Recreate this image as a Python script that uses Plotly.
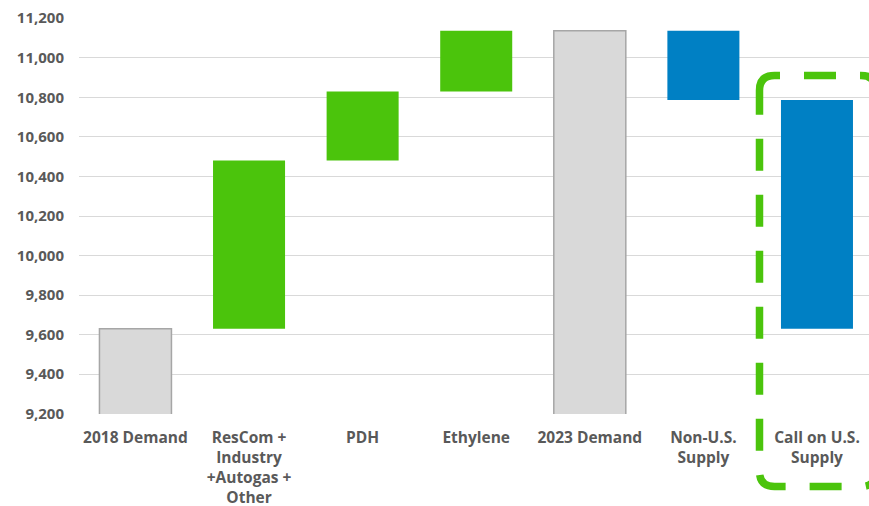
import plotly.graph_objects as go

# ---- data ----
categories = ["2018 Demand", "ResCom +<br>Industry<br>+Autogas +<br>Other", "PDH", "Ethylene",
              "2023 Demand", "Non-U.S.<br>Supply", "Call on U.S.<br>Supply"]
measures = ["absolute", "relative", "relative", "relative", "total", "relative", "relative"]
values = [9630, 850, 350, 307, None, -350, -1157]
y_ticks = [9200, 9400, 9600, 9800, 10000, 10200, 10400, 10600, 10800, 11000, 11200]

GREEN = "#4BC40C"
BLUE = "#0080C4"
GRAY = "#D9D9D9"
GRAY_LINE = "#A6A6A6"
TEXT = "#595959"
FONT = "Open Sans"

W, H = 869, 506
L, R, T, B = 79, 0, 18, 92
pw, ph = W - L - R, H - T - B

fig = go.Figure(go.Waterfall(
    x=categories, y=values, measure=measures,
    width=0.634,
    increasing=dict(marker=dict(color=GREEN, line=dict(width=0))),
    decreasing=dict(marker=dict(color=BLUE, line=dict(width=0))),
    totals=dict(marker=dict(color=GRAY, line=dict(color=GRAY_LINE, width=1.5))),
    connector=dict(visible=False),
    showlegend=False, hoverinfo="skip",
))

# dashed rounded box (pixel geometry -> paper coords)
def X(px):
    return (px - L) / pw

def Y(py):
    return (H - B - py) / ph

left, right, top, bottom, r = 759.5, 876, 75.5, 486.5, 15

def P(cmd, pts):
    return cmd + " ".join(f"{X(a):.5f},{Y(b):.5f}" for a, b in pts)

path1 = " ".join([
    P("M", [(780, top)]),
    P("L", [(left + r, top)]),
    P("Q", [(left, top), (left, top + r)]),
    P("L", [(left, bottom - r)]),
    P("Q", [(left, bottom), (left + r, bottom)]),
    P("L", [(right - r, bottom)]),
    P("Q", [(right, bottom), (right, bottom - r)]),
    P("L", [(right, top + 40)]),
])
path2 = " ".join([
    P("M", [(804, top)]),
    P("L", [(right - r, top)]),
    P("Q", [(right, top), (right, top + r)]),
    P("L", [(right, top + 60)]),
])
dash1 = "54px,24px," + ",".join(["32px,24px"] * 20)
for pth, dsh in [(path1, dash1), (path2, "32px,24px")]:
    fig.add_shape(type="path", path=pth, xref="paper", yref="paper",
                  line=dict(color=GREEN, width=7.5, dash=dsh), layer="above")

fig.update_layout(
    width=W, height=H,
    margin=dict(l=L, r=R, t=T, b=B, autoexpand=False),
    paper_bgcolor="white", plot_bgcolor="white",
    font=dict(family=FONT, color=TEXT, size=15),
    xaxis=dict(range=[-0.497, 6.458], showgrid=False, zeroline=False, showline=False,
               tickfont=dict(family=FONT, size=15.5, color=TEXT, weight="bold"),
               ticks="", ticklabelstandoff=12),
    yaxis=dict(range=[9199, 11201], tickvals=y_ticks, tickformat=",d",
               showgrid=True, gridcolor="#D9D9D9", gridwidth=1.4,
               zeroline=False, showline=False, ticks="",
               tickfont=dict(family=FONT, size=15, color=TEXT, weight="bold"),
               ticklabelstandoff=14),
)

fig.write_html("out.html")
